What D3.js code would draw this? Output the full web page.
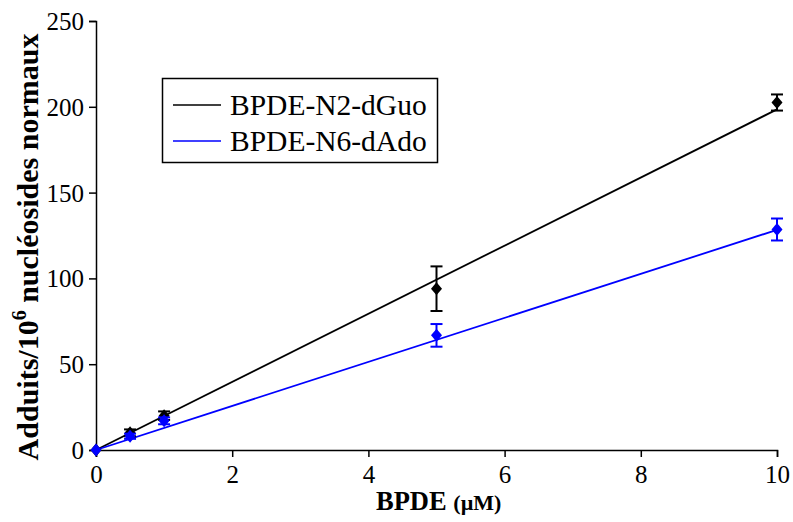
<!DOCTYPE html>
<html><head><meta charset="utf-8">
<script src="https://cdn.jsdelivr.net/npm/d3@7"></script>
<style>body{margin:0;background:#fff}svg{display:block}</style>
</head><body>
<svg id="c" width="793" height="522"></svg>
<script>
const xTicks = [0, 2, 4, 6, 8, 10];
const yTicks = [0, 50, 100, 150, 200, 250];
const doses = [0, 0.5, 1, 5, 10];
const seriesNames = ["BPDE-N2-dGuo", "BPDE-N6-dAdo"];
const n2Mean = [0, 10, 20, 94, 202.5];
const n2Err  = [0, 2, 2.5, 13, 4.7];
const n6Mean = [0, 8, 17, 66.8, 128.5];
const n6Err  = [0, 1.5, 2, 6.6, 6.4];
const trendX = [0, 10];
const n2Trend = [0, 198.5];
const n6Trend = [0, 128.3];
const colors = ["#000000", "#0000ff"];

const svg = d3.select("#c");
const x = d3.scaleLinear().domain([0, 10]).range([96, 777]);
const y = d3.scaleLinear().domain([0, 250]).range([450, 21]);

const font = "'Liberation Serif','Times New Roman',serif";

const gx = svg.append("g").attr("transform", `translate(0,${y(0)})`)
  .call(d3.axisBottom(x).tickValues(xTicks).tickSize(7).tickPadding(6).tickFormat(d3.format("d")));
const gy = svg.append("g").attr("transform", `translate(${x(0)},0)`)
  .call(d3.axisLeft(y).tickValues(yTicks).tickSize(7).tickPadding(5).tickFormat(d3.format("d")));
[gx, gy].forEach(g => {
  g.select(".domain").attr("stroke", "#000").attr("stroke-width", 1.5);
  g.selectAll(".tick line").attr("stroke", "#000").attr("stroke-width", 1.5);
  g.selectAll(".tick text").attr("font-family", font).attr("font-size", 25).attr("fill", "#000");
});
gy.selectAll(".tick text").attr("dy", "0.34em");
gx.selectAll(".tick text").attr("dy", "0.78em");

const line = d3.line().x(d => x(d[0])).y(d => y(d[1]));
[n2Trend, n6Trend].forEach((t, i) => {
  svg.append("path").attr("d", line(trendX.map((v, j) => [v, t[j]])))
    .attr("fill", "none").attr("stroke", colors[i]).attr("stroke-width", 1.8);
});

const diamond = (cx, cy, w, h) => `M${cx},${cy-h}L${cx+w},${cy}L${cx},${cy+h}L${cx-w},${cy}Z`;
[[n2Mean, n2Err], [n6Mean, n6Err]].forEach(([m, e], i) => {
  const g = svg.append("g");
  doses.forEach((d, j) => {
    if (e[j] > 0) {
      const cx = x(d), t = y(m[j] + e[j]), b = y(m[j] - e[j]);
      g.append("line").attr("x1", cx).attr("x2", cx).attr("y1", t).attr("y2", b)
        .attr("stroke", colors[i]).attr("stroke-width", 2);
      [t, b].forEach(yy => g.append("line").attr("x1", cx - 6).attr("x2", cx + 6)
        .attr("y1", yy).attr("y2", yy).attr("stroke", colors[i]).attr("stroke-width", 2));
    }
    g.append("path").attr("d", diamond(x(d), y(m[j]), 5.5, 6.5)).attr("fill", colors[i]);
  });
});

const lg = svg.append("g");
lg.append("rect").attr("x", 162.5).attr("y", 78.5).attr("width", 275).attr("height", 84)
  .attr("fill", "#fff").attr("stroke", "#000").attr("stroke-width", 1.5);
seriesNames.forEach((n, i) => {
  const yy = 105 + i * 36;
  lg.append("line").attr("x1", 173).attr("x2", 221).attr("y1", yy).attr("y2", yy)
    .attr("stroke", colors[i]).attr("stroke-width", 1.5);
  lg.append("text").attr("x", 230).attr("y", yy).attr("dy", "0.35em")
    .attr("font-family", font).attr("font-size", 29.5).attr("fill", "#000").text(n);
});

const xt = svg.append("text").attr("x", 376).attr("y", 510)
  .attr("font-family", font).attr("font-weight", "bold").attr("fill", "#000");
xt.append("tspan").attr("font-size", 26.5).text("BPDE ");
xt.append("tspan").attr("font-size", 22).text("(µM)");

const yt = svg.append("text").attr("transform", "translate(38,247) rotate(-90)")
  .attr("text-anchor", "middle").attr("font-family", font).attr("font-weight", "bold")
  .attr("font-size", 30).attr("fill", "#000");
yt.append("tspan").text("Adduits/10");
yt.append("tspan").attr("font-size", 20).attr("dy", "-0.6em").text("6");
yt.append("tspan").attr("dy", "0.4em").text(" nucléosides normaux");
</script>
</body></html>
